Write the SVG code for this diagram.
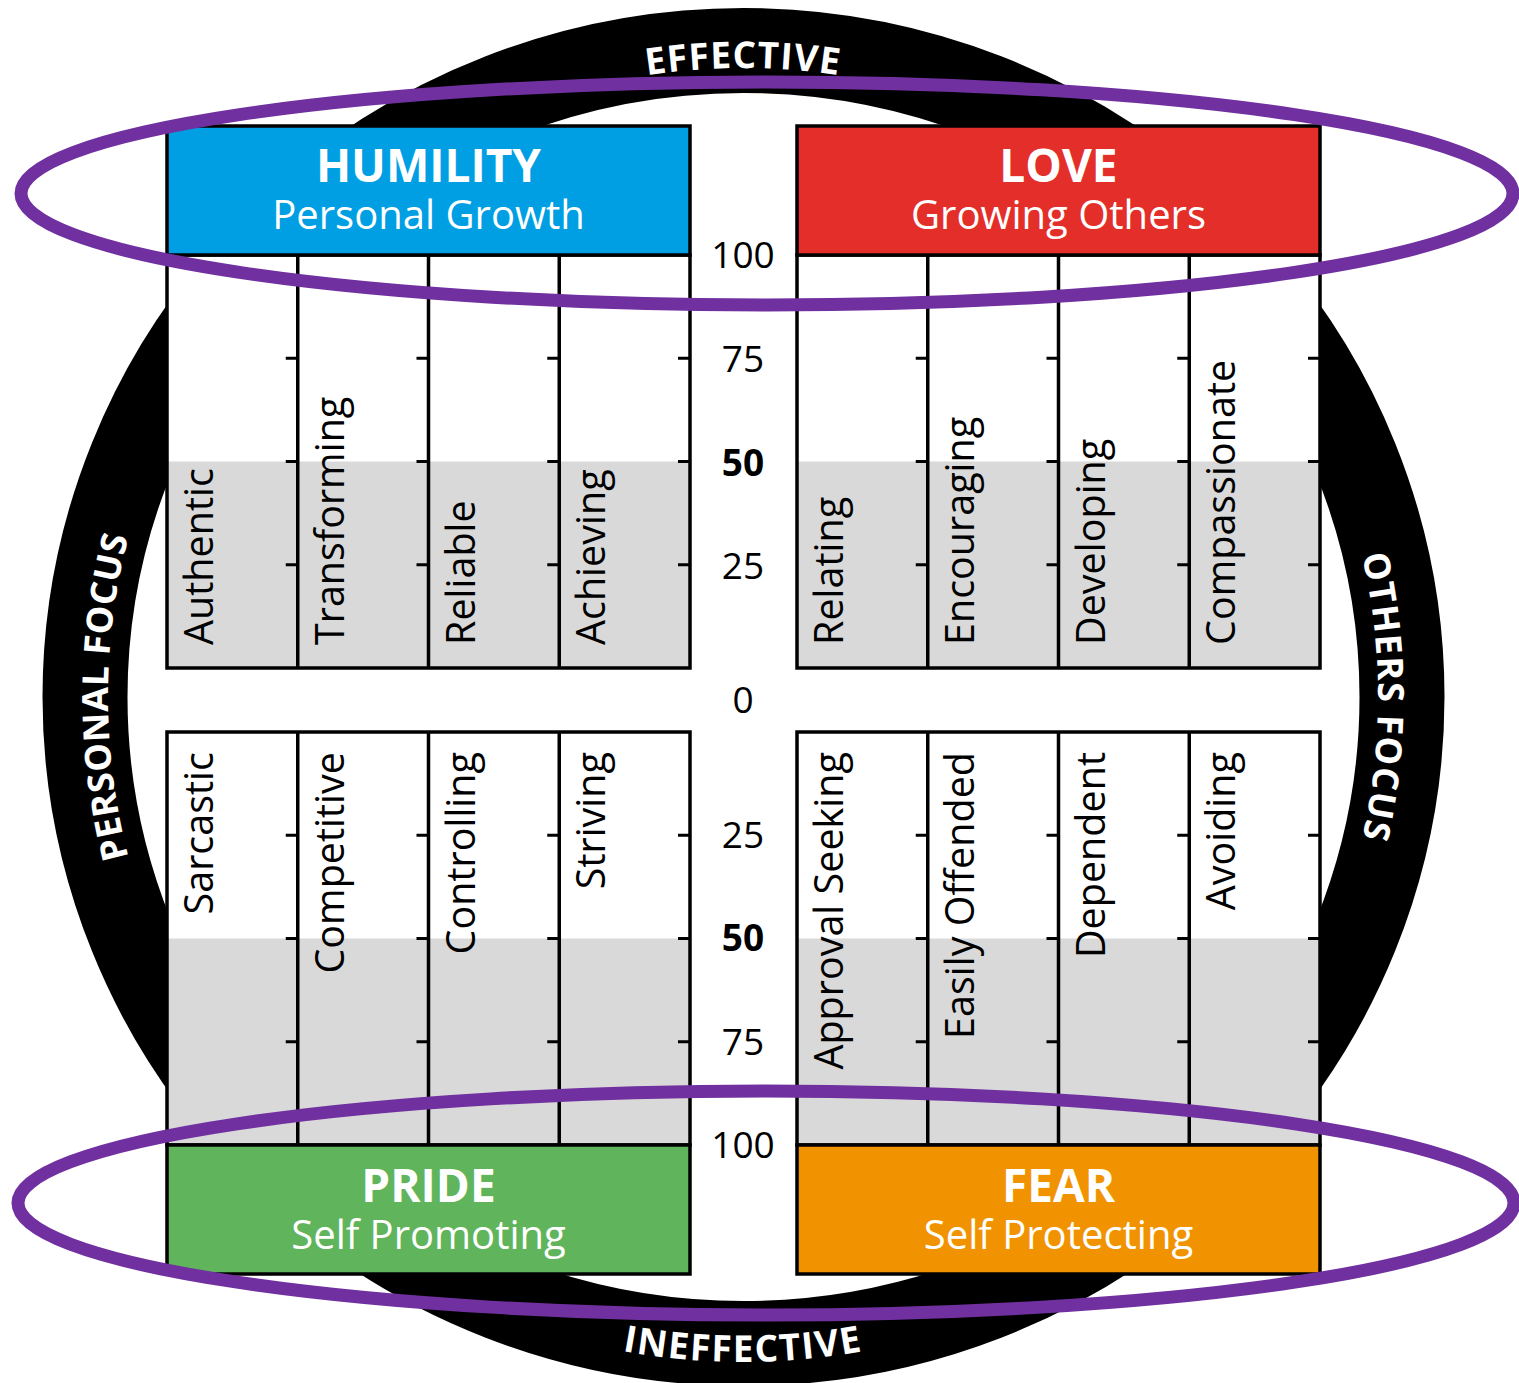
<svg xmlns="http://www.w3.org/2000/svg" width="1519" height="1383" viewBox="0 0 1519 1383">
<style>
.ring{fill:none;stroke:#000;stroke-width:85}
.ringtxt{font-family:"Open Sans","Liberation Sans",sans-serif;font-weight:700;font-size:37px;fill:#fff;letter-spacing:1.5px}
.hdr{stroke:#000;stroke-width:3.5}
.title{font-family:"Open Sans","Liberation Sans",sans-serif;font-weight:700;font-size:46px;fill:#fff;text-anchor:middle}
.sub{font-family:"Open Sans","Liberation Sans",sans-serif;font-size:40px;fill:#fff;text-anchor:middle}
.colbg{fill:#fff;stroke:none}
.gray{fill:#d9d9d9;stroke:none}
.grid{fill:none;stroke:#000;stroke-width:3.5}
.tick{stroke:#000;stroke-width:3}
.lbl{font-family:"Open Sans","Liberation Sans",sans-serif;font-size:39.5px;fill:#000}
.num{font-family:"Open Sans","Liberation Sans",sans-serif;font-size:37px;fill:#000;text-anchor:middle}
.bold{font-weight:700}
.purple{fill:none;stroke:#7030a0;stroke-width:13}
</style>
<defs>
<path id="arcTop" d="M114,697 A629,629 0 0 1 1372,697"/>
<path id="arcBottom" d="M78,697 A665,665 0 0 0 1408,697"/>
<path id="arcLeft" d="M743,1332 A635,635 0 0 1 743,62"/>
<path id="arcRight" d="M743,62 A634,634 0 0 1 743,1332"/>
</defs>
<rect x="0" y="0" width="1519" height="1383" fill="#fff"/>
<g id="ring">
<ellipse class="ring" cx="743.5" cy="697" rx="658.5" ry="646.5"/>
<text class="ringtxt" style="font-size:37px;letter-spacing:1px"><textPath href="#arcTop" startOffset="50%" text-anchor="middle">EFFECTIVE</textPath></text>
<text class="ringtxt"><textPath href="#arcBottom" startOffset="50%" text-anchor="middle">INEFFECTIVE</textPath></text>
<text class="ringtxt" style="letter-spacing:0.5px;font-size:36px"><textPath href="#arcLeft" startOffset="50%" text-anchor="middle">PERSONAL FOCUS</textPath></text>
<text class="ringtxt" style="font-size:36px"><textPath href="#arcRight" startOffset="50%" text-anchor="middle">OTHERS FOCUS</textPath></text>
</g>
<g id="humility">
<rect class="colbg" x="167" y="255" width="523" height="413"/>
<rect class="gray" x="167" y="461.5" width="523" height="206.5"/>
<rect class="grid" x="167" y="255" width="523" height="413"/>
<path class="grid" d="M297.75,255V668M428.5,255V668M559.25,255V668"/>
<path class="tick" d="M285.75,358.3H297.75M285.75,461.5H297.75M285.75,564.8H297.75M416.5,358.3H428.5M416.5,461.5H428.5M416.5,564.8H428.5M547.25,358.3H559.25M547.25,461.5H559.25M547.25,564.8H559.25M678,358.3H690M678,461.5H690M678,564.8H690"/>
<rect class="hdr" x="167" y="126" width="523" height="129" fill="#009fe3"/>
<text class="title" x="428.5" y="182">HUMILITY</text>
<text class="sub" x="428.5" y="229">Personal Growth</text>
<text class="lbl" transform="translate(213,645) rotate(-90)">Authentic</text>
<text class="lbl" transform="translate(343.75,645) rotate(-90)">Transforming</text>
<text class="lbl" transform="translate(474.5,645) rotate(-90)">Reliable</text>
<text class="lbl" transform="translate(605.25,645) rotate(-90)">Achieving</text>
</g>
<g id="love">
<rect class="colbg" x="797" y="255" width="523" height="413"/>
<rect class="gray" x="797" y="461.5" width="523" height="206.5"/>
<rect class="grid" x="797" y="255" width="523" height="413"/>
<path class="grid" d="M927.75,255V668M1058.5,255V668M1189.25,255V668"/>
<path class="tick" d="M915.75,358.3H927.75M915.75,461.5H927.75M915.75,564.8H927.75M1046.5,358.3H1058.5M1046.5,461.5H1058.5M1046.5,564.8H1058.5M1177.25,358.3H1189.25M1177.25,461.5H1189.25M1177.25,564.8H1189.25M1308,358.3H1320M1308,461.5H1320M1308,564.8H1320"/>
<rect class="hdr" x="797" y="126" width="523" height="129" fill="#e42e29"/>
<text class="title" x="1058.5" y="182">LOVE</text>
<text class="sub" x="1058.5" y="229">Growing Others</text>
<text class="lbl" transform="translate(843,645) rotate(-90)">Relating</text>
<text class="lbl" transform="translate(973.75,645) rotate(-90)">Encouraging</text>
<text class="lbl" transform="translate(1104.5,645) rotate(-90)">Developing</text>
<text class="lbl" transform="translate(1235.25,645) rotate(-90)">Compassionate</text>
</g>
<g id="pride">
<rect class="colbg" x="167" y="732" width="523" height="413"/>
<rect class="gray" x="167" y="938.5" width="523" height="206.5"/>
<rect class="grid" x="167" y="732" width="523" height="413"/>
<path class="grid" d="M297.75,732V1145M428.5,732V1145M559.25,732V1145"/>
<path class="tick" d="M285.75,835.3H297.75M285.75,938.5H297.75M285.75,1041.8H297.75M416.5,835.3H428.5M416.5,938.5H428.5M416.5,1041.8H428.5M547.25,835.3H559.25M547.25,938.5H559.25M547.25,1041.8H559.25M678,835.3H690M678,938.5H690M678,1041.8H690"/>
<rect class="hdr" x="167" y="1145" width="523" height="129" fill="#60b45c"/>
<text class="title" x="428.5" y="1202">PRIDE</text>
<text class="sub" x="428.5" y="1249">Self Promoting</text>
<text class="lbl" text-anchor="end" transform="translate(213,752) rotate(-90)">Sarcastic</text>
<text class="lbl" text-anchor="end" transform="translate(343.75,752) rotate(-90)">Competitive</text>
<text class="lbl" text-anchor="end" transform="translate(474.5,752) rotate(-90)">Controlling</text>
<text class="lbl" text-anchor="end" transform="translate(605.25,752) rotate(-90)">Striving</text>
</g>
<g id="fear">
<rect class="colbg" x="797" y="732" width="523" height="413"/>
<rect class="gray" x="797" y="938.5" width="523" height="206.5"/>
<rect class="grid" x="797" y="732" width="523" height="413"/>
<path class="grid" d="M927.75,732V1145M1058.5,732V1145M1189.25,732V1145"/>
<path class="tick" d="M915.75,835.3H927.75M915.75,938.5H927.75M915.75,1041.8H927.75M1046.5,835.3H1058.5M1046.5,938.5H1058.5M1046.5,1041.8H1058.5M1177.25,835.3H1189.25M1177.25,938.5H1189.25M1177.25,1041.8H1189.25M1308,835.3H1320M1308,938.5H1320M1308,1041.8H1320"/>
<rect class="hdr" x="797" y="1145" width="523" height="129" fill="#f19300"/>
<text class="title" x="1058.5" y="1202">FEAR</text>
<text class="sub" x="1058.5" y="1249">Self Protecting</text>
<text class="lbl" text-anchor="end" transform="translate(843,752) rotate(-90)">Approval Seeking</text>
<text class="lbl" text-anchor="end" transform="translate(973.75,752) rotate(-90)">Easily Offended</text>
<text class="lbl" text-anchor="end" transform="translate(1104.5,752) rotate(-90)">Dependent</text>
<text class="lbl" text-anchor="end" transform="translate(1235.25,752) rotate(-90)">Avoiding</text>
</g>
<g id="scale">
<text class="num" x="743" y="268">100</text>
<text class="num" x="743" y="372">75</text>
<text class="num bold" x="743" y="476">50</text>
<text class="num" x="743" y="579">25</text>
<text class="num" x="743" y="713">0</text>
<text class="num" x="743" y="848">25</text>
<text class="num bold" x="743" y="951">50</text>
<text class="num" x="743" y="1055">75</text>
<text class="num" x="743" y="1158">100</text>
</g>
<g id="highlights">
<ellipse class="purple" cx="767" cy="193.5" rx="746" ry="111.5"/>
<ellipse class="purple" cx="766" cy="1203" rx="748" ry="112"/>
</g>
</svg>
